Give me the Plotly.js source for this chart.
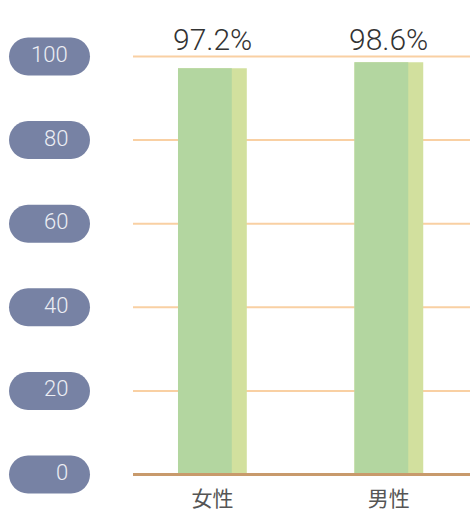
<!DOCTYPE html>
<html><head><meta charset="utf-8">
<script src="https://cdn.plot.ly/plotly-3.0.1.min.js"></script>
<style>html,body{margin:0;padding:0;background:#fff}#chart{width:470px;height:514px}</style>
</head><body><div id="chart"></div>
<script>
const categories = ['女性', '男性'];
const values = [97.2, 98.6];
const valueLabels = ['97.2%', '98.6%'];
const yTicks = [0, 20, 40, 60, 80, 100];
const yTickText = ['0', '20', '40', '60', '80', '100'];

const xs = categories.map((c, i) => i);
const fullW = 0.39, mainW = 0.305, off = -0.195;
const yMin = -1.0766, yMax = 101.0766;

const traces = [
  {type: 'bar', x: xs, y: values, width: xs.map(() => fullW), offset: xs.map(() => off),
   marker: {color: '#d2e09e'}, hoverinfo: 'skip'},
  {type: 'bar', x: xs, y: values, width: xs.map(() => mainW), offset: xs.map(() => off),
   marker: {color: '#b3d6a0'}, hoverinfo: 'skip'}
];

function toPaper(v) { return (v - yMin) / (yMax - yMin); }

function pill(yv) {
  const x0 = -124, x1 = -43, r = 19, k = 0.5523 * r;
  const a = x0 + r, b = x1 - r;
  const p = `M ${a},${-r} L ${b},${-r} C ${b + k},${-r} ${x1},${-k} ${x1},0 C ${x1},${k} ${b + k},${r} ${b},${r} L ${a},${r} C ${a - k},${r} ${x0},${k} ${x0},0 C ${x0},${-k} ${a - k},${-r} ${a},${-r} Z`;
  return {type: 'path', xref: 'paper', yref: 'paper', xsizemode: 'pixel', ysizemode: 'pixel',
    xanchor: 0, yanchor: toPaper(yv), path: p, fillcolor: '#7782a4', line: {width: 0}, layer: 'above'};
}

const shapes = yTicks.map(pill);
yTicks.filter(t => t > 0).forEach(t => shapes.push({type: 'line', xref: 'paper', yref: 'y',
  x0: 0, x1: 1, y0: t, y1: t, line: {color: '#f9d0a3', width: 2}, layer: 'below'}));
shapes.push({type: 'line', xref: 'paper', yref: 'y', x0: 0, x1: 1, y0: 0, y1: 0,
  line: {color: '#c89a6c', width: 3}});

const annotations = yTicks.map((t, i) => ({
  xref: 'paper', yref: 'y', x: -0.187, y: t, xanchor: 'right', yanchor: 'middle', yshift: 2,
  text: yTickText[i], showarrow: false, font: {family: 'Roboto', size: 22, color: '#eceef4', weight: 300}
})).concat(xs.map((x, i) => ({
  xref: 'x', yref: 'y', x: x, y: 100, xanchor: 'center', yanchor: 'bottom', yshift: -2,
  text: valueLabels[i], showarrow: false, font: {family: 'Roboto', size: 30, color: '#333333', weight: 300}
})));

const layout = {
  width: 470, height: 514,
  margin: {l: 133, r: 0, t: 52, b: 35},
  paper_bgcolor: '#ffffff', plot_bgcolor: '#ffffff',
  barmode: 'overlay', showlegend: false,
  xaxis: {range: [-0.45, 1.46], tickvals: xs, ticktext: categories, showgrid: false,
    zeroline: false, showline: false, ticks: '', ticklabelstandoff: 5,
    tickfont: {family: 'Noto Sans CJK JP', size: 21, color: '#555555'}},
  yaxis: {range: [yMin, yMax], tickvals: yTicks, showticklabels: false, showgrid: false,
    zeroline: false, showline: false, ticks: ''},
  shapes: shapes, annotations: annotations
};

Plotly.newPlot('chart', traces, layout, {displayModeBar: false, staticPlot: true});
</script></body></html>
